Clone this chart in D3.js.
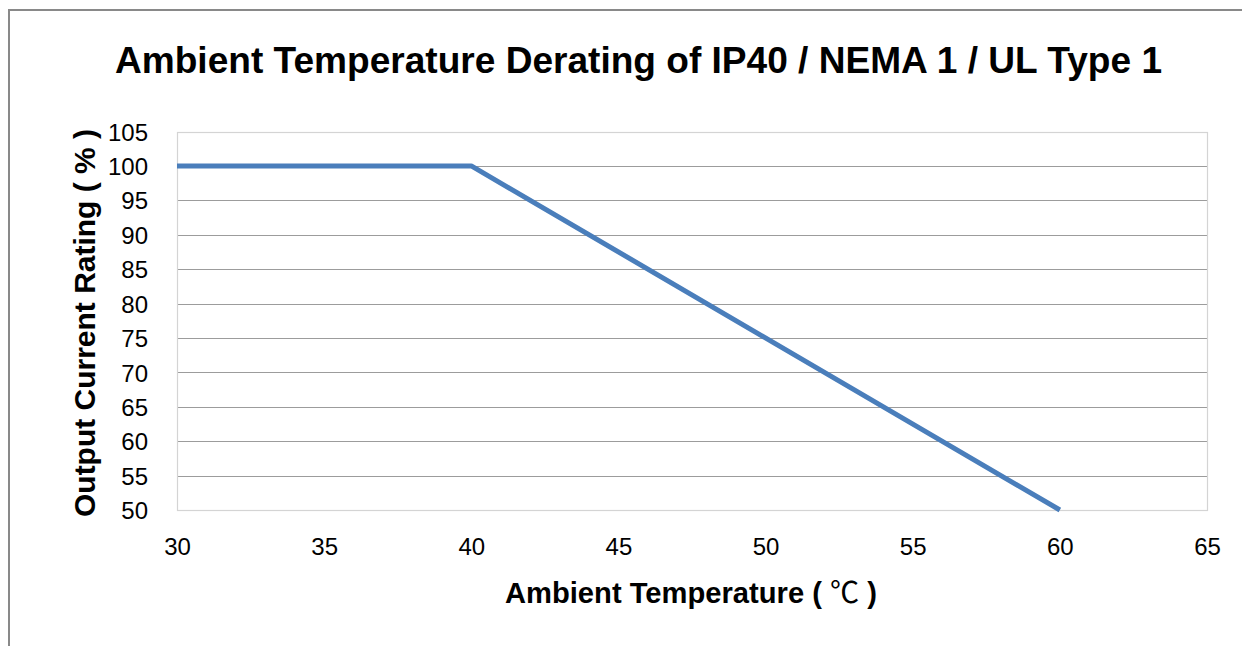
<!DOCTYPE html>
<html>
<head>
<meta charset="utf-8">
<script src="https://cdn.jsdelivr.net/npm/d3@7"></script>
<style>
  html, body { margin: 0; padding: 0; background: #fff; }
  svg { display: block; }
  text { font-family: "Liberation Sans", Arial, sans-serif; fill: #000; }
</style>
</head>
<body>
<svg id="chart" width="1242" height="646"></svg>
<script>
// Derating curve: ambient temperature (°C) vs. output current rating (%)
const temperature = [30, 40, 60];
const currentRating = [100, 100, 50];
const xTicks = [30, 35, 40, 45, 50, 55, 60, 65];
const yTicks = [50, 55, 60, 65, 70, 75, 80, 85, 90, 95, 100, 105];

const chartTitle = "Ambient Temperature Derating of IP40 / NEMA 1 / UL Type 1";
const xTitle = "Ambient Temperature ( ";
const xUnit = "\u2103";
const yTitle = "Output Current Rating ( % )";

const W = 1242, H = 646;
const plot = { left: 177, right: 1207, top: 131.5, bottom: 510 };

const svg = d3.select("#chart");

// outer frame (runs off the right and bottom edges)
svg.append("rect")
  .attr("x", 9).attr("y", 10)
  .attr("width", W + 20).attr("height", H + 20)
  .attr("fill", "none").attr("stroke", "#898989").attr("stroke-width", 2);

const x = d3.scaleLinear().domain([30, 65]).range([plot.left, plot.right]);
const y = d3.scaleLinear().domain([50, 105]).range([plot.bottom, plot.top]);

// horizontal gridlines
svg.append("g")
  .selectAll("line")
  .data(yTicks.filter(v => v > 50 && v < 105))
  .join("line")
  .attr("x1", plot.left).attr("x2", plot.right)
  .attr("y1", d => Math.round(y(d)) + 0.5).attr("y2", d => Math.round(y(d)) + 0.5)
  .attr("stroke", "#9c9c9c").attr("stroke-width", 1);

// plot area border
svg.append("rect")
  .attr("x", plot.left + 0.5).attr("y", Math.round(plot.top) + 0.5)
  .attr("width", plot.right - plot.left)
  .attr("height", Math.round(plot.bottom) - Math.round(plot.top))
  .attr("fill", "none").attr("stroke", "#d4d4d4").attr("stroke-width", 1.2);

// y axis tick labels
const yAxis = d3.axisLeft(y).tickValues(yTicks).tickSize(0).tickPadding(29);
const gy = svg.append("g").attr("transform", `translate(${plot.left},0)`).call(yAxis);
gy.select(".domain").remove();
gy.selectAll("text")
  .attr("font-size", 24)
  .attr("font-family", "Liberation Sans, Arial, sans-serif")
  .attr("fill", "#000")
  .attr("dy", "0.36em");

// x axis tick labels
const xAxis = d3.axisBottom(x).tickValues(xTicks).tickSize(0).tickPadding(28);
const gx = svg.append("g").attr("transform", `translate(0,${plot.bottom})`).call(xAxis);
gx.select(".domain").remove();
gx.selectAll("text")
  .attr("font-size", 24)
  .attr("font-family", "Liberation Sans, Arial, sans-serif")
  .attr("fill", "#000")
  .attr("dy", "0.71em");

// derating line
const line = d3.line().x(d => x(d[0])).y(d => y(d[1]));
svg.append("path")
  .datum(temperature.map((t, i) => [t, currentRating[i]]))
  .attr("d", line)
  .attr("fill", "none")
  .attr("stroke", "#4a7ebb")
  .attr("stroke-width", 5)
  .attr("stroke-linejoin", "round");

// chart title
svg.append("text")
  .attr("x", 115).attr("y", 73)
  .attr("font-size", 37).attr("font-weight", "bold")
  .attr("textLength", 1047).attr("lengthAdjust", "spacingAndGlyphs")
  .text(chartTitle);

// x axis title
const xt = svg.append("text")
  .attr("x", 505).attr("y", 603)
  .attr("font-size", 29).attr("font-weight", "bold")
  .attr("textLength", 372).attr("lengthAdjust", "spacingAndGlyphs");
xt.append("tspan").text(xTitle);
xt.append("tspan")
  .attr("font-family", "Noto Sans CJK SC, sans-serif")
  .attr("font-weight", "normal")
  .text(xUnit);
xt.append("tspan").text(" )");

// y axis title
svg.append("text")
  .attr("transform", "translate(95,323) rotate(-90)")
  .attr("text-anchor", "middle")
  .attr("font-size", 30).attr("font-weight", "bold")
  .attr("textLength", 388).attr("lengthAdjust", "spacingAndGlyphs")
  .text(yTitle);
</script>
</body>
</html>
